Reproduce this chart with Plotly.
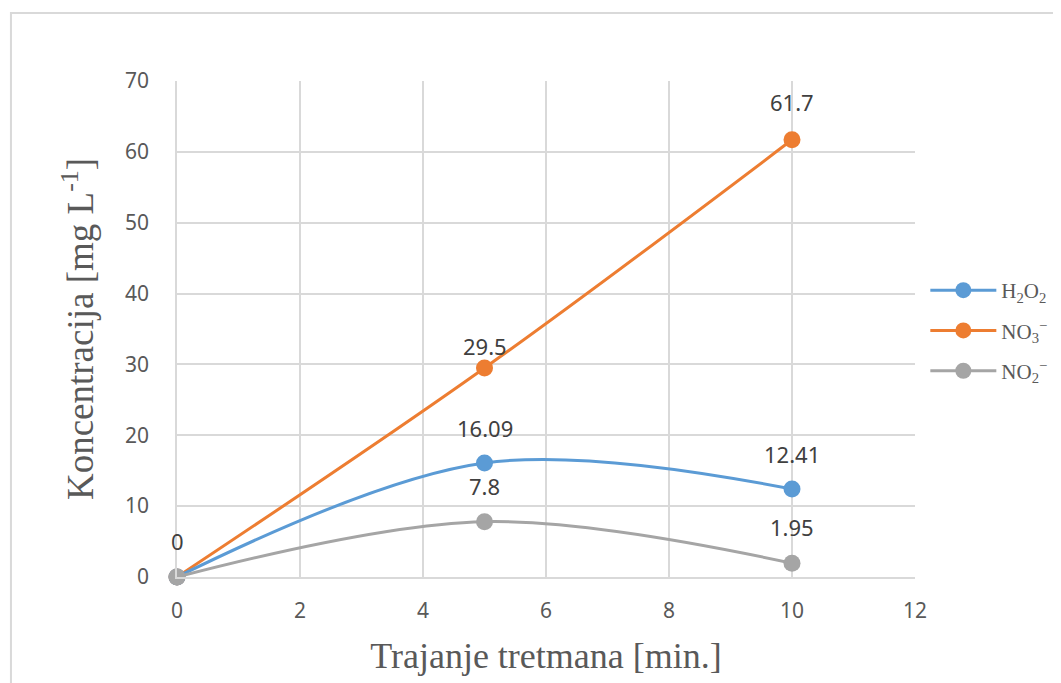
import plotly.graph_objects as go

x_vals = [0, 5, 10]
h2o2 = [0, 16.09, 12.41]
no3 = [0, 29.5, 61.7]
no2 = [0, 7.8, 1.95]
names = ["H<sub>2</sub>O<sub>2</sub>", "NO<sub>3</sub><sup>−</sup>", "NO<sub>2</sub><sup>−</sup>"]
colors = ["#5b9bd5", "#ed7d31", "#a5a5a5"]
series = [h2o2, no3, no2]
shapes_line = ["spline", "spline", "spline"]
label_text = [["", "16.09", "12.41"], ["0", "29.5", "61.7"], ["", "7.8", "1.95"]]
label_shift = [[36, 35, 35], [36, 22, 38], [35, 36, 36]]

fig = go.Figure()
for i in [1, 0, 2]:
    fig.add_trace(go.Scatter(
        x=x_vals, y=series[i], name=names[i], mode="lines+markers",
        line=dict(color=colors[i], width=3, shape=shapes_line[i], smoothing=1),
        marker=dict(color=colors[i], size=17),
        legendgroup=str(i), legendrank=i + 1, cliponaxis=False,
    ))

annotations = []
for i in range(3):
    for xv, yv, t, s in zip(x_vals, series[i], label_text[i], label_shift[i]):
        if t:
            annotations.append(dict(x=xv, y=yv, text=t, showarrow=False, yshift=s,
                                    font=dict(family="Noto Sans", size=22, color="#404040")))

fig.update_layout(
    width=1061, height=683,
    margin=dict(l=169, r=154, t=73, b=114, autoexpand=False),
    paper_bgcolor="white", plot_bgcolor="white",
    annotations=annotations,
    showlegend=True,
    legend=dict(x=1.014, y=0.497, xanchor="left", yanchor="middle",
                font=dict(family="Liberation Serif", size=21, color="#595959"),
                itemwidth=66, tracegroupgap=10),
    shapes=[dict(type="rect", xref="paper", yref="paper", x0=-0.225, x1=1.3, y0=-0.35, y1=1.137,
                 line=dict(color="#d9d9d9", width=2), layer="below")],
)
fig.update_xaxes(range=[0, 12], dtick=2, showgrid=True, gridcolor="#d9d9d9", gridwidth=1.5,
                 zeroline=False, showline=True, linecolor="#d9d9d9", linewidth=1.5,
                 tickfont=dict(family="Noto Sans", size=21, color="#595959"), ticks="",
                 ticklabelstandoff=14,
                 title=dict(text="Trajanje tretmana [min.]", standoff=20,
                            font=dict(family="Liberation Serif", size=36, color="#595959")))
fig.update_yaxes(range=[0, 70], dtick=10, showgrid=True, gridcolor="#d9d9d9", gridwidth=1.5,
                 zeroline=False, showline=True, linecolor="#d9d9d9", linewidth=1.5,
                 tickfont=dict(family="Noto Sans", size=21, color="#595959"), ticks="",
                 ticklabelstandoff=22,
                 title=dict(text="Koncentracija [mg L<sup>-1</sup>]", standoff=20,
                            font=dict(family="Liberation Serif", size=37, color="#595959")))

fig.write_html("out.html")
